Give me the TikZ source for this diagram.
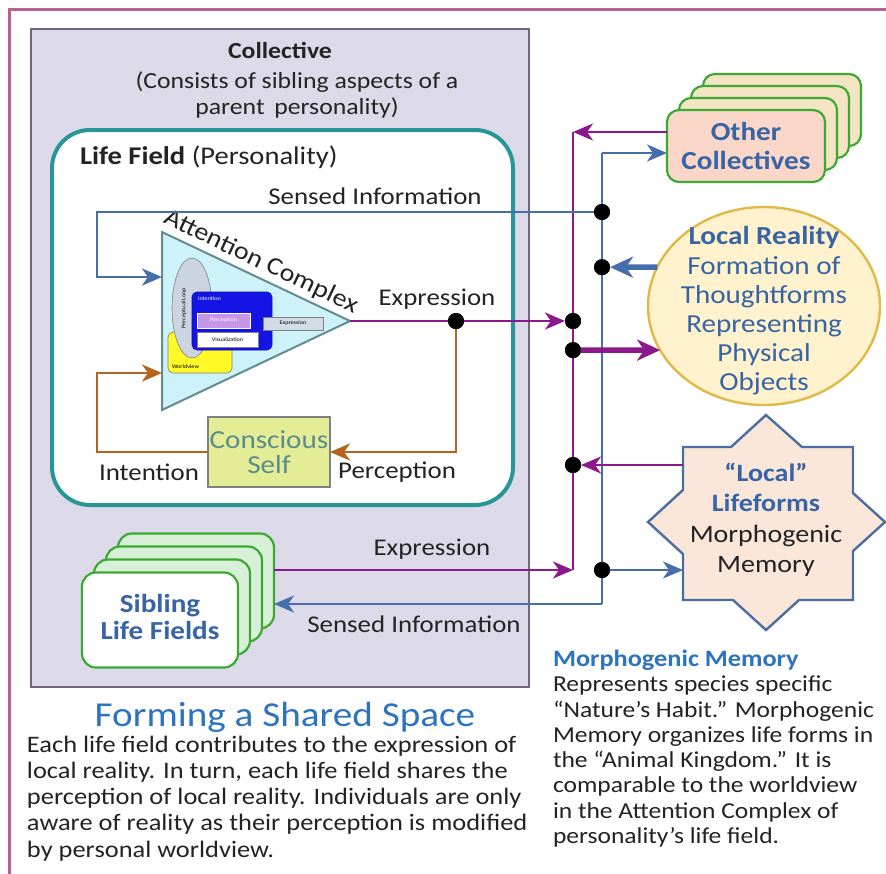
\documentclass[tikz,border=0pt]{standalone}
\usepackage{fontspec}
\setmainfont{Carlito}[FakeStretch=1.12]
\usetikzlibrary{arrows.meta,shapes.geometric}
\newcommand{\myfs}[2]{\fontsize{#1}{#2}\selectfont}
\definecolor{framec}{RGB}{185,95,150}
\definecolor{collfill}{RGB}{220,218,232}
\definecolor{colledge}{RGB}{120,100,125}
\definecolor{tealc}{RGB}{40,150,150}
\definecolor{purp}{RGB}{140,25,140}
\definecolor{blu}{RGB}{70,110,170}
\definecolor{brn}{RGB}{180,100,30}
\definecolor{txtblue}{RGB}{55,100,165}
\definecolor{headblue}{RGB}{45,115,190}
\definecolor{labeltxt}{RGB}{35,35,35}
\definecolor{trifill}{RGB}{205,242,250}
\definecolor{triedge}{RGB}{100,140,145}
\definecolor{csfill}{RGB}{228,236,150}
\definecolor{cstext}{RGB}{90,140,140}
\definecolor{ocfront}{RGB}{250,215,200}
\definecolor{ocback}{RGB}{245,228,195}
\definecolor{grn}{RGB}{60,170,50}
\definecolor{sibback}{RGB}{215,240,215}
\definecolor{lrfill}{RGB}{255,242,204}
\definecolor{lredge}{RGB}{225,185,70}
\definecolor{starfill}{RGB}{251,231,218}
\definecolor{staredge}{RGB}{75,110,160}
\definecolor{wvyellow}{RGB}{255,250,40}
\definecolor{plgray}{RGB}{205,212,225}
\definecolor{intblue}{RGB}{20,20,230}
\definecolor{percpurp}{RGB}{200,150,230}
\definecolor{exgray}{RGB}{210,220,230}
\begin{document}
\begin{tikzpicture}[x=1pt,y=-1pt,
  every node/.style={inner sep=0pt,outer sep=0pt},
  pl/.style={draw=purp,line width=2.8pt},
  bl/.style={draw=blu,line width=2.8pt},
  brl/.style={draw=brn,line width=2.8pt},
  tip/.style={-{Stealth[length=20pt,width=17pt,inset=6pt]}},
  bigtip/.style={-{Stealth[length=23pt,width=21pt,inset=7pt]}},
  dot/.style={circle,fill=black,minimum size=16pt},
  lbl/.style={font=\myfs{24}{28},text=labeltxt},
  stackP/.style={draw=grn,line width=2.2pt,rounded corners=12pt,minimum width=158pt,minimum height=72pt},
  stackS/.style={draw=grn,line width=2.2pt,rounded corners=14pt,minimum width=156pt,minimum height=95pt},
  tiny/.style={font=\myfs{5.5}{6}}
]
\useasboundingbox (0,0) rectangle (886,873);
\fill[white] (0,0) rectangle (886,873);
% outer frame
\draw[framec,line width=3pt] (9,880) -- (9,9) -- (890,9);

% collective
\node[draw=colledge,fill=collfill,line width=1.3pt,minimum width=498pt,minimum height=658pt] (coll) at (280,358) {};
\node[font=\bfseries\myfs{23}{27},text=labeltxt] (ttl) at (280,50) {Collective};
\node[font=\myfs{23}{26},text=labeltxt,align=center] (sub) at (297,95) {(Consists of sibling aspects of a\\parent\, personality)};

% life field
\node[draw=tealc,fill=white,line width=4pt,rounded corners=38pt,minimum width=461pt,minimum height=375pt] (lf) at (282.5,317.5) {};
\node[anchor=west,font=\myfs{25.5}{28},text=labeltxt] (lft) at (80,157) {\textbf{Life Field} (Personality)};

% triangle (attention complex)
\draw[fill=trifill,draw=triedge,line width=2pt] (162,232) -- (350,321) -- (162,410) -- cycle;
\coordinate (tritip) at (350,321);
\coordinate (triin1) at (162,277);
\coordinate (triin2) at (162,373);
\node[rotate=-25.3,font=\myfs{25}{28},text=labeltxt] (ac) at (261,262) {Attention Complex};

% inner details
\draw[fill=wvyellow,draw=gray,line width=0.6pt,rounded corners=5pt] (168,332) rectangle (232,373);
\node[tiny,anchor=west] (wv) at (172,367) {Worldview};
\node[ellipse,draw=gray,fill=plgray,line width=0.6pt,minimum width=40pt,minimum height=100pt] (pel) at (192,308) {};
\node[tiny,rotate=90] (plt) at (184,308) {Perceptual Loop};
\draw[fill=intblue,draw=intblue!70!black,line width=0.6pt,rounded corners=5pt] (192,292) rectangle (272,350);
\node[tiny,anchor=west,text=white] (intn) at (198,299) {Intention};
\node[draw=white,fill=percpurp,line width=0.6pt,minimum width=53pt,minimum height=15pt,tiny,text=white] (perc) at (223.5,320.5) {Perception};
\node[draw=gray,fill=white,line width=0.6pt,minimum width=61pt,minimum height=15pt,tiny] (vis) at (227.5,339.5) {Visualization};
\node[draw=gray,fill=exgray,line width=0.6pt,minimum width=60pt,minimum height=13pt,tiny] (exb) at (293,323.5) {Expression};

% conscious self
\node[draw=gray,fill=csfill,line width=1.6pt,minimum width=122pt,minimum height=70pt,font=\myfs{26}{25},text=cstext,align=center] (cs) at (269,452) {Conscious\\Self};

% labels
\node[lbl] (lsi1) at (375,196) {Sensed Information};
\node[lbl] (lex1) at (437,299) {Expression};
\node[lbl] (lint) at (149,472) {Intention};
\node[lbl] (lper) at (397,472) {Perception};
\node[lbl] (lex2) at (432,549) {Expression};
\node[lbl] (lsi2) at (414,624) {Sensed Information};

% other collectives
\foreach \k in {3,2,1} \node[stackP,fill=ocback] (oc\k) at ({746+12*\k},{146-12*\k}) {};
\node[stackP,fill=ocfront,font=\bfseries\myfs{26}{29},text=txtblue,align=center] (oc) at (746,146) {Other\\Collectives};

% sibling life fields
\foreach \k in {3,2,1} \node[stackS,fill=sibback] (sib\k) at ({160+12*\k},{620-13*\k}) {};
\node[stackS,fill=white,font=\bfseries\myfs{26}{30},text=txtblue,align=center] (sib) at (160,620) {\raisebox{3pt}{\begin{tabular}{@{}c@{}}Sibling\\[-3pt]Life Fields\end{tabular}}};

% local reality
\node[ellipse,draw=lredge,fill=lrfill,line width=2.4pt,minimum width=232pt,minimum height=198pt] (lr) at (764,306) {};
\node[font=\myfs{26}{29.2},text=txtblue,align=center] (lrt) at (764,311) {\textbf{Local Reality}\\Formation of\\Thoughtforms\\Representing\\Physical\\Objects};

% star (local lifeforms)
\draw[fill=starfill,draw=staredge,line width=2.4pt,line join=miter]
  (766,415) -- (802,447) -- (853,447) -- (853,493) -- (885,522) -- (853,551) -- (853,600) -- (799,600)
  -- (766,630) -- (733,600) -- (683,600) -- (683,554) -- (648,522) -- (683,490) -- (683,447) -- (731,447) -- cycle;
\node[font=\myfs{25}{30.5},align=center] (lfm) at (766,520) {\textcolor{txtblue}{\textbf{“Local”}}\\\textcolor{txtblue}{\textbf{Lifeforms}}\\\textcolor{labeltxt}{Morphogenic}\\\textcolor{labeltxt}{Memory}};
\coordinate (stA) at (683,465);
\coordinate (stB) at (683,570);

% bus coordinates
\coordinate (pTop) at (573,132);
\coordinate (pBot) at (573,570);
\coordinate (bTop) at (602,153);
\coordinate (bBot) at (602,604);
\coordinate (sA) at (97,212);
\coordinate (loopA) at (97,373);

\node[dot] (dS) at (602,212) {};
\node[dot] (dLR) at (602,267.2) {};
\node[dot] (dE) at (573,321) {};
\node[dot] (dP) at (573,350.1) {};
\node[dot] (dLF) at (573,465) {};
\node[dot] (dB) at (602,570) {};
\node[dot] (dX) at (456,321) {};

% connectors
\draw[pl] (pTop) -- (pBot);
\draw[bl] (bTop) -- (bBot);
\draw[pl,tip] (oc.west |- pTop) -- (pTop);
\draw[bl,tip] (bTop) -- (oc.west |- bTop);
\draw[bl,tip] (dS) -- (sA) |- (triin1);
\draw[pl,tip] (tritip) -- (dE);
\draw[brl,tip] (dX) |- (cs.east);
\draw[brl,tip] (cs.west) -| (loopA) -- (triin2);
\draw[blu,line width=5.5pt,bigtip] (lr.160) -- (dLR);
\draw[purp,line width=5.5pt,bigtip] (dP) -- (lr.203);
\draw[pl,tip] (stA) -- (dLF);
\draw[bl,tip] (dB) -- (stB);
\draw[pl,tip] (sib3.east |- pBot) -- (pBot);
\draw[bl,tip] (bBot) -- (sib3.east |- bBot);

% redraw dots on top
\foreach \d in {dS,dLR,dE,dP,dLF,dB,dX} \fill[black] (\d) circle (8pt);

% bottom texts
\node[font=\myfs{35}{40},text=headblue] (fss) at (285,717) {Forming a Shared Space};
\node[anchor=north west,align=left,font=\myfs{23.6}{26.2},text=labeltxt] (para) at (27,736) {Each life field contributes to the expression of\\local reality. In turn, each life field shares the\\perception of local reality. Individuals are only\\aware of reality as their perception is modified\\by personal worldview.};
\node[anchor=west,font=\bfseries\myfs{23.5}{26},text=headblue] (mmh) at (553,660) {Morphogenic Memory};
\node[anchor=north west,align=left,font=\myfs{22.8}{25.3},text=labeltxt] (mmp) at (553,676) {Represents species specific\\“Nature’s Habit.” Morphogenic\\Memory organizes life forms in\\the “Animal Kingdom.” It is\\comparable to the worldview\\in the Attention Complex of\\personality’s life field.};
\end{tikzpicture}
\end{document}
